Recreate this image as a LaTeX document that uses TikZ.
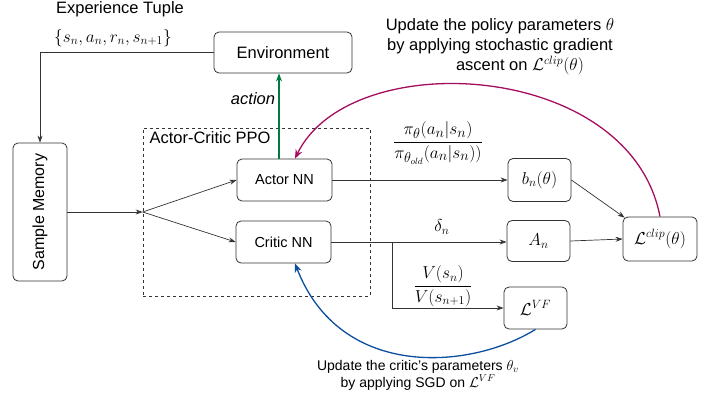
\documentclass[tikz,border=0pt]{standalone}
\usepackage{amsmath, amssymb}
\usepackage{fontspec}
\setmainfont{Liberation Sans}
\usepackage{tikz}
\usetikzlibrary{arrows.meta, positioning, calc}
\usepackage{xcolor}
\definecolor{polcol}{HTML}{A50D5E}
\definecolor{crtcol}{HTML}{0B4F9E}
\definecolor{actcol}{HTML}{007A3D}
\definecolor{linecol}{HTML}{333333}

\begin{document}
\begin{tikzpicture}[x=1pt, y=-1pt,
    box/.style={draw=linecol, rounded corners=5pt, line width=0.8pt, inner sep=0pt, align=center},
    arr/.style={draw=linecol, line width=0.7pt, -{Stealth[length=7pt, width=5pt]}},
    bigtxt/.style={font=\fontsize{16.5}{20}\selectfont},
    smalltxt/.style={font=\fontsize{14.5}{17}\selectfont},
    mathtxt/.style={font=\fontsize{17}{20}\selectfont}]
    \useasboundingbox (0,0) rectangle (718,397);

    \node[box, bigtxt, minimum width=138pt, minimum height=41pt] (env) at (283,52.5) {Environment};
    \node[box, font=\fontsize{16}{19}\selectfont, rotate=90, minimum width=138pt, minimum height=54pt] (mem) at (40,212) {Sample Memory};
    \node[draw=linecol, dashed, line width=0.7pt, minimum width=227pt, minimum height=168pt] (ppo) at (256.5,212) {};
    \node[bigtxt, anchor=west] (ppolbl) at (146,138) {Actor-Critic PPO};
    \node[box, smalltxt, minimum width=95pt, minimum height=42pt] (actor) at (284.5,180) {Actor NN};
    \node[box, smalltxt, minimum width=95pt, minimum height=42pt] (critic) at (283.5,242) {Critic NN};
    \node[box, mathtxt, minimum width=63pt, minimum height=43pt] (bn) at (539.5,180) {$b_n(\theta)$};
    \node[box, mathtxt, minimum width=63pt, minimum height=41pt] (an) at (538.5,241) {$A_n$};
    \node[box, mathtxt, minimum width=74pt, minimum height=44pt] (lclip) at (660,239) {$\mathcal{L}^{clip}(\theta)$};
    \node[box, mathtxt, minimum width=63pt, minimum height=42pt] (lvf) at (535.5,308) {$\mathcal{L}^{VF}$};

    \node[bigtxt] (exptitle) at (120,9) {Experience Tuple};
    \node[mathtxt] (exptuple) at (113,38) {$\{s_n, a_n, r_n, s_{n+1}\}$};
    \node[font=\fontsize{19}{22}\selectfont] (ratio) at (438,143) {$\dfrac{\pi_\theta(a_n|s_n)}{\pi_{\theta_{old}}(a_n|s_n))}$};
    \node[mathtxt] (delta) at (442,227) {$\delta_n$};
    \node[mathtxt] (vratio) at (443,286) {$\dfrac{V(s_n)}{V(s_{n+1})}$};
    \node[bigtxt, align=center] (polupd) at (500,47) {Update the policy parameters $\theta$\\by applying stochastic gradient\\\hspace*{40pt}ascent on $\mathcal{L}^{clip}(\theta)$};
    \node[font=\fontsize{14}{17}\selectfont, align=center] (crtupd) at (418,375) {Update the critic's parameters $\theta_v$\\by applying SGD on $\mathcal{L}^{VF}$};

    \coordinate (split) at (ppo.west);
    \coordinate (branch) at (392,242);

    \draw[arr] (env.west) -| (mem.east);
    \draw[arr] (mem.south) -- (split);
    \draw[arr] (split) -- (actor.west);
    \draw[arr] (split) -- (critic.west);
    \draw[arr] (actor.east) -- (bn.west);
    \draw[arr] (critic.east) -- (an.west |- critic.east);
    \draw[arr] (branch) |- (lvf.west);
    \draw[arr] (bn.east) -- ($(lclip.north west)+(2,1)$);
    \draw[arr] (an.east) -- (lclip.west);
    \draw[actcol, line width=1.3pt, -{Stealth[length=8pt, width=6pt]}] ([xshift=-5.5pt]actor.north) -- ([xshift=-5.5pt]actor.north |- env.south) node[pos=0.7, left, bigtxt, text=black] {\textit{action}};
    \draw[polcol, line width=1.3pt, -{Stealth[length=9pt, width=7pt]}] (lclip.north) .. controls (630,60) and (350,45) .. ([xshift=10.5pt]actor.north);
    \draw[crtcol, line width=1.3pt, -{Stealth[length=9pt, width=7pt]}] (lvf.south) .. controls (470,370) and (340,380) .. ([xshift=11.5pt]critic.south);
\end{tikzpicture}
\end{document}
